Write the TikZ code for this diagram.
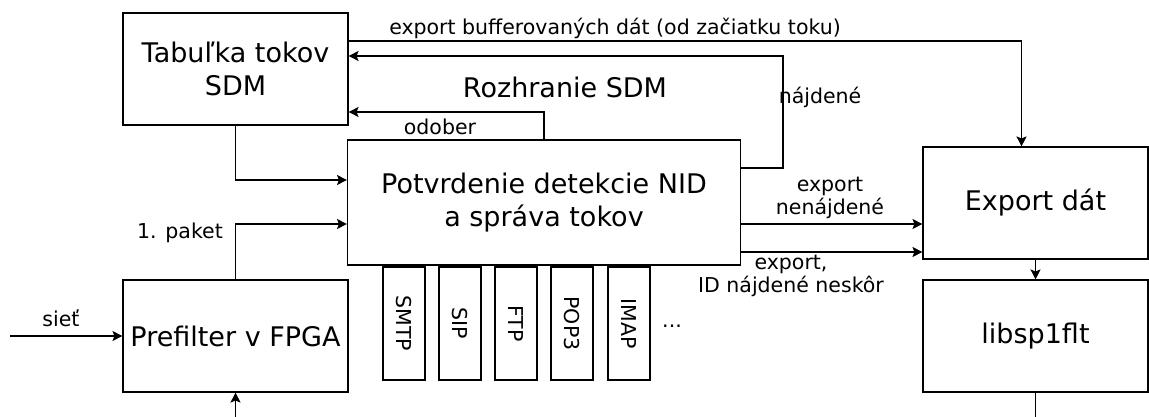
\documentclass[tikz,border=0pt]{standalone}
\usepackage{fontspec}
\setmainfont{DejaVu Sans}
\usetikzlibrary{arrows.meta}

\begin{document}
\begin{tikzpicture}[x=1pt,y=-1pt]
\tikzset{
  blok/.style = {draw=black, line width=1.1pt, minimum width=225pt,
    minimum height=112pt, inner sep=0pt, align=center,
    font=\fontsize{27}{33}\selectfont},
  prot/.style = {draw=black, line width=1.1pt, rotate=-90, minimum width=113pt,
    minimum height=42pt, inner sep=0pt, font=\fontsize{20.5}{23}\selectfont},
  popis/.style = {font=\fontsize{20.5}{23}\selectfont, inner sep=0pt},
  sip/.style = {line width=1.1pt, -{Stealth[length=10pt,width=10pt,inset=2pt]}}
}
\useasboundingbox (0,0) rectangle (1149,417);

\node [blok] (tab) at (235.5,69) {Tabuľka tokov\\SDM};
\node [blok, minimum width=393pt, minimum height=125pt] (potv) at (544,202.5)
  {Potvrdenie detekcie NID\\a správa tokov};
\node [blok] (pref) at (235.5,336) {Prefilter v FPGA};
\node [blok] (exp) at (1035.5,203) {Export dát};
\node [blok] (lib) at (1035.5,336) {libsp1flt};

\node [prot] (smtp) at (404,323.5) {SMTP};
\node [prot] (sipp) at (460,323.5) {SIP};
\node [prot] (ftp) at (516,323.5) {FTP};
\node [prot] (pop) at (572,323.5) {POP3};
\node [prot] (imap) at (629,323.5) {IMAP};
\node [popis] (dalsie) at (672,326) {...};

\coordinate (najd) at (783,56);
\coordinate (siet) at (10,336);
\coordinate (vstup) at (235.5,417);
\coordinate (vystup) at (1035.5,417);

\draw [sip] ([yshift=28pt]tab.east) -| ([xshift=-14pt]exp.north);
\draw [sip] ([yshift=34.5pt]potv.east) -| (najd) -- (najd -| tab.east);
\draw [sip] (potv.north) |- ([yshift=-43pt]tab.east);
\draw [sip] (tab.south) |- ([yshift=22.5pt]potv.west);
\draw [sip] (pref.north) |- ([yshift=-21.5pt]potv.west);
\draw [sip] (siet) -- (pref.west);
\draw [sip] (vstup) -- (pref.south);
\draw [sip] ([yshift=-21.5pt]potv.east) -- ([yshift=-21.5pt]potv.east -| exp.west);
\draw [sip] ([yshift=-49.5pt]potv.east) -- ([yshift=-49.5pt]potv.east -| exp.west);
\draw [sip] (exp.south) -- (lib.north);
\draw [line width=1.1pt] (lib.south) -- (vystup);

\node [popis] (l_buf) at (615,28) {export bufferovaných dát (od začiatku toku)};
\node [popis, font=\fontsize{27}{31}\selectfont] (l_roz) at (565,87) {Rozhranie SDM};
\node [popis] (l_odo) at (440,127) {odober};
\node [popis] (l_naj) at (820,97) {nájdené};
\node [popis] (l_pak) at (180,233) {1. paket};
\node [popis] (l_sie) at (61,318) {sieť};
\node [popis, align=center] (l_nen) at (830,198) {export\\nenájdené};
\node [popis, align=center] (l_nes) at (791,276) {export,\\ID nájdené neskôr};
\end{tikzpicture}
\end{document}
